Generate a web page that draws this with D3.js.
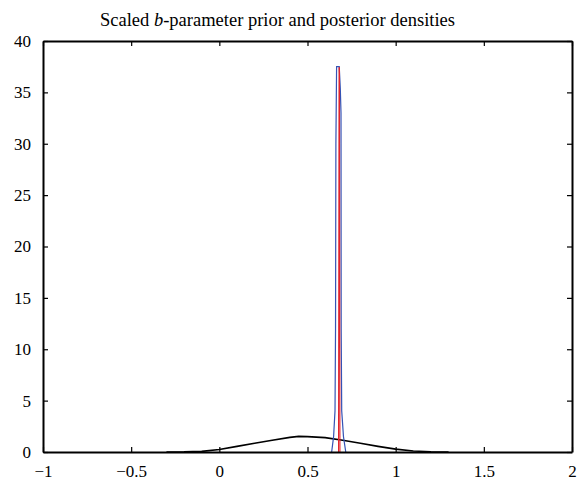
<!DOCTYPE html>
<html>
<head>
<meta charset="utf-8">
<script src="https://cdn.jsdelivr.net/npm/d3@7"></script>
<style>
  body { margin: 0; background: #fff; }
</style>
</head>
<body>
<svg id="chart" width="588" height="482"></svg>
<script>
const fontFamily = "'Liberation Serif', 'DejaVu Serif', serif";

// Axis ticks
const xTicks = [-1, -0.5, 0, 0.5, 1, 1.5, 2];
const yTicks = [0, 5, 10, 15, 20, 25, 30, 35, 40];

// Prior density (black)
const priorX = [-0.3, -0.2, -0.1, 0, 0.1, 0.2, 0.3, 0.4, 0.45, 0.5, 0.6, 0.7, 0.8, 0.9, 1.0, 1.1, 1.2, 1.3];
const priorY = [0, 0.01, 0.06, 0.25, 0.55, 0.85, 1.15, 1.42, 1.52, 1.5, 1.4, 1.15, 0.85, 0.55, 0.28, 0.1, 0.03, 0];

// Posterior density (blue)
const postBlueX = [0.637, 0.648, 0.656, 0.659, 0.661, 0.665, 0.680, 0.686, 0.690, 0.691, 0.694, 0.704, 0.717];
const postBlueY = [0, 1.5, 4, 12, 30, 37.5, 37.5, 35.4, 33, 12, 4, 1.5, 0];

// Posterior density (red)
const postRedX = [0.676, 0.679, 0.681, 0.684];
const postRedY = [0, 37.4, 37.4, 0];

const width = 588, height = 482;
const margin = { left: 43, right: 16, top: 41, bottom: 30 };
const svg = d3.select("#chart");

const x = d3.scaleLinear().domain([-1, 2]).range([margin.left, width - margin.right]);
const y = d3.scaleLinear().domain([0, 40]).range([height - margin.bottom, margin.top]);

const line = d3.line().x(d => x(d[0])).y(d => y(d[1]));

// Curves
const series = [
  { xs: priorX, ys: priorY, color: "#000", w: 1.6 },
  { xs: postBlueX, ys: postBlueY, color: "#3553b5", w: 1.2 },
  { xs: postRedX, ys: postRedY, color: "#e3222b", w: 1.1 }
];
series.forEach(s => {
  svg.append("path")
    .datum(s.xs.map((v, i) => [v, s.ys[i]]))
    .attr("d", line)
    .attr("fill", "none")
    .attr("stroke", s.color)
    .attr("stroke-width", s.w);
});

// Axes, ticks inward on all four sides
const tickLen = 5;
const fmt = d => d < 0 ? "\u2212" + Math.abs(d) : String(d);

svg.append("g")
  .attr("transform", `translate(0,${y(0)})`)
  .call(d3.axisBottom(x).tickValues(xTicks).tickSizeInner(-tickLen).tickSizeOuter(0).tickPadding(13).tickFormat(fmt));
svg.append("g")
  .attr("transform", `translate(0,${y(40)})`)
  .call(d3.axisTop(x).tickValues(xTicks).tickSizeInner(-tickLen).tickSizeOuter(0).tickFormat(""));
svg.append("g")
  .attr("transform", `translate(${x(-1)},0)`)
  .call(d3.axisLeft(y).tickValues(yTicks).tickSizeInner(-tickLen).tickSizeOuter(0).tickPadding(12).tickFormat(fmt));
svg.append("g")
  .attr("transform", `translate(${x(2)},0)`)
  .call(d3.axisRight(y).tickValues(yTicks).tickSizeInner(-tickLen).tickSizeOuter(0).tickFormat(""));

svg.selectAll(".domain").attr("stroke", "#000").attr("stroke-width", 2);
svg.selectAll(".tick line").attr("stroke", "#000").attr("stroke-width", 1.2);
svg.selectAll(".tick text")
  .attr("font-family", fontFamily)
  .attr("font-size", "17px")
  .attr("fill", "#000");

// Title
svg.append("text")
  .attr("x", (x(-1) + x(2)) / 2 - 30)
  .attr("y", 26)
  .attr("text-anchor", "middle")
  .attr("font-family", fontFamily)
  .attr("font-size", "18.5px")
  .attr("fill", "#000")
  .call(t => {
    t.append("tspan").text("Scaled ");
    t.append("tspan").attr("font-style", "italic").text("b");
    t.append("tspan").text("-parameter prior and posterior densities");
  });
</script>
</body>
</html>
